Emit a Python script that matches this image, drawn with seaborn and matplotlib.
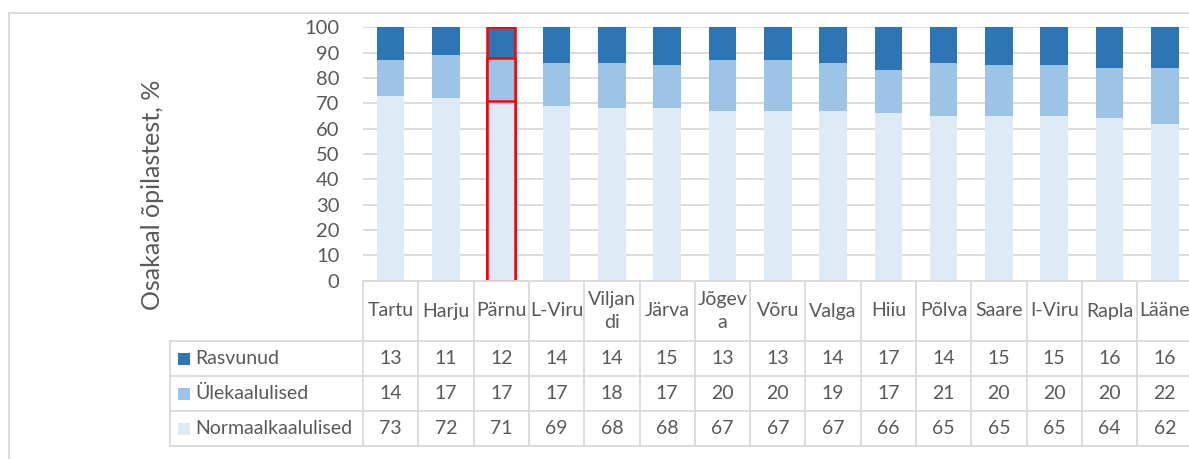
import matplotlib
matplotlib.use("Agg")
import matplotlib.pyplot as plt
from matplotlib.transforms import blended_transform_factory
from matplotlib.patches import Rectangle
from matplotlib.lines import Line2D
import seaborn as sns
import pandas as pd

# Data: share of pupils by weight category per county (%)
counties = ["Tartu", "Harju", "Pärnu", "L-Viru", "Viljandi", "Järva", "Jõgeva",
            "Võru", "Valga", "Hiiu", "Põlva", "Saare", "I-Viru", "Rapla", "Lääne"]
header_labels = ["Tartu", "Harju", "Pärnu", "L-Viru", "Viljan\ndi", "Järva", "Jõgev\na",
                 "Võru", "Valga", "Hiiu", "Põlva", "Saare", "I-Viru", "Rapla", "Lääne"]
rasvunud = [13, 11, 12, 14, 14, 15, 13, 13, 14, 17, 14, 15, 15, 16, 16]
ylekaalulised = [14, 17, 17, 17, 18, 17, 20, 20, 19, 17, 21, 20, 20, 20, 22]
normaalkaalulised = [73, 72, 71, 69, 68, 68, 67, 67, 67, 66, 65, 65, 65, 64, 62]
series_names = ["Rasvunud", "Ülekaalulised", "Normaalkaalulised"]
series_colors = ["#2E75B6", "#9DC3E6", "#DEEBF7"]
highlight = "Pärnu"
y_label = "Osakaal õpilastest, %"

sns.set_theme(style="white")
plt.rcParams["font.family"] = ["Lato", "DejaVu Sans"]
text_color = "#595959"
line_color = "#D9D9D9"
fs = 14

W, H = 1189, 459
fig = plt.figure(figsize=(W / 100, H / 100), dpi=100)
fx = lambda px: px / W
fy = lambda py: 1 - py / H

ax = fig.add_axes([fx(363), fy(280.5), 829.5 / W, 253.2 / H])

df = pd.DataFrame({
    "county": counties,
    "Rasvunud": rasvunud,
    "Ülekaalulised": ylekaalulised,
    "Normaalkaalulised": normaalkaalulised,
})
# cumulative heights so the stacks can be drawn back to front
df["top"] = df["Rasvunud"] + df["Ülekaalulised"] + df["Normaalkaalulised"]
df["mid"] = df["Ülekaalulised"] + df["Normaalkaalulised"]
layers = ["top", "mid", "Normaalkaalulised"]

for col, color in zip(layers, series_colors):
    sns.barplot(data=df, x="county", y=col, order=counties, color=color,
                saturation=1, width=0.5, edgecolor="none", linewidth=0, ax=ax)

# outline the highlighted county
hi = counties.index(highlight)
n = len(counties)
for k in range(len(layers)):
    p = ax.patches[k * n + hi]
    p.set_edgecolor("#FF0000")
    p.set_linewidth(1.8)

ax.set_xlim(-0.5, n - 0.5)
ax.set_ylim(0, 100)
ax.set_yticks(range(0, 101, 10))
ax.yaxis.grid(True, color=line_color, linewidth=1.3)
ax.set_axisbelow(True)
ax.tick_params(axis="y", left=False, pad=11, labelsize=fs + 0.5, labelcolor=text_color)
ax.tick_params(axis="x", bottom=False, labelbottom=False)
ax.set_xlabel("")
ax.set_ylabel("")
for s in ax.spines.values():
    s.set_visible(False)

fig.text(fx(153), fy(195), y_label, rotation=90, ha="center", va="center",
         fontsize=18, color=text_color)

# data table under the bars
T = blended_transform_factory(ax.transData, fig.transFigure)
row_tops = [341, 376, 411, 446]
lw = 1.3

fig.add_artist(Line2D([fx(363), 1.01], [fy(281), fy(281)], color=line_color, lw=lw))
for py in row_tops:
    fig.add_artist(Line2D([fx(170), 1.01], [fy(py), fy(py)], color=line_color, lw=lw))
fig.add_artist(Line2D([fx(170), fx(170)], [fy(341), fy(446)], color=line_color, lw=lw))
for i in range(n + 1):
    fig.add_artist(Line2D([i - 0.5, i - 0.5], [fy(281), fy(446)], transform=T,
                          color=line_color, lw=lw))

for i, lab in enumerate(header_labels):
    fig.text(i, fy(311), lab, transform=T, ha="center", va="center",
             fontsize=fs, color=text_color, linespacing=1.45)

series_values = [rasvunud, ylekaalulised, normaalkaalulised]
for r, (name, vals, color) in enumerate(zip(series_names, series_values, series_colors)):
    cy = (row_tops[r] + row_tops[r + 1]) / 2
    fig.add_artist(Rectangle((fx(178), fy(cy + 6)), 12 / W, 12 / H,
                             transform=fig.transFigure, color=color, lw=0))
    fig.text(fx(195), fy(cy), name, ha="left", va="center", fontsize=fs, color=text_color)
    for i, v in enumerate(vals):
        fig.text(i, fy(cy), str(v), transform=T, ha="center", va="center",
                 fontsize=fs, color=text_color)

# outer chart frame
fig.add_artist(Rectangle((fx(8.5), -0.2), 2, fy(12.5) + 0.2, transform=fig.transFigure,
                         fill=False, edgecolor=line_color, lw=1.3))

fig.savefig("out.png", dpi=100)
